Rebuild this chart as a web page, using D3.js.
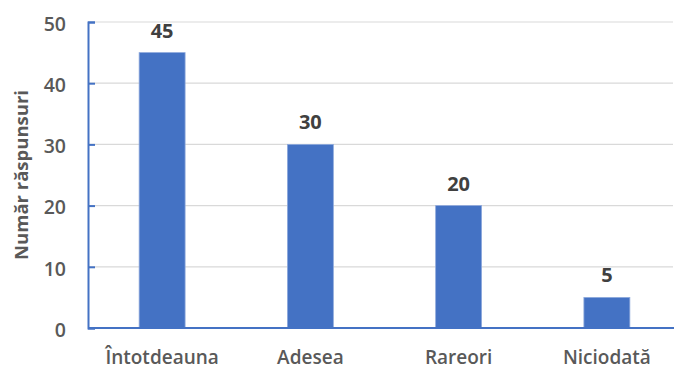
<!DOCTYPE html>
<html>
<head>
<meta charset="utf-8">
<script src="https://cdn.jsdelivr.net/npm/d3@7"></script>
<style>
  html, body { margin: 0; padding: 0; background: #fff; }
  svg { display: block; font-family: "Open Sans", "Noto Sans", sans-serif; }
</style>
</head>
<body>
<svg id="chart" width="674" height="369"></svg>
<script>
// Survey answers: how often respondents do it
const categories = ["Întotdeauna", "Adesea", "Rareori", "Niciodată"];
const values = [45, 30, 20, 5];
const yTicks = [0, 10, 20, 30, 40, 50];
const yTitle = "Număr răspunsuri";

const svg = d3.select("#chart");
const W = 674;
const plotLeft = 88, plotRight = 681, plotTop = 22, plotBottom = 328;

const x = d3.scaleBand()
  .domain(categories)
  .range([plotLeft, plotRight])
  .paddingInner(0.69)
  .paddingOuter(0.345);

const y = d3.scaleLinear().domain([0, 50]).range([plotBottom, plotTop]);

// Horizontal gridlines
svg.append("g")
  .selectAll("line")
  .data(yTicks.filter(d => d > 0))
  .join("line")
  .attr("x1", plotLeft).attr("x2", W - 1)
  .attr("y1", d => y(d)).attr("y2", d => y(d))
  .attr("stroke", "#d9d9d9")
  .attr("stroke-width", 1.2);

// Bars
svg.append("g")
  .selectAll("rect")
  .data(values)
  .join("rect")
  .attr("x", (d, i) => x(categories[i]))
  .attr("y", d => y(d))
  .attr("width", x.bandwidth())
  .attr("height", d => y(0) - y(d))
  .attr("fill", "#4472c4")
  .attr("stroke", "#8faadc")
  .attr("stroke-width", 0.8);

// Y axis: ticks point into the plot
const yAxis = d3.axisRight(y).tickValues(yTicks).tickSize(7).tickFormat("");
const gy = svg.append("g").attr("transform", `translate(${plotLeft},0)`).call(yAxis);
gy.select(".domain").attr("stroke", "#4472c4").attr("stroke-width", 2);
gy.selectAll(".tick line").attr("stroke", "#4472c4").attr("stroke-width", 2);

// Y tick labels
svg.append("g")
  .selectAll("text")
  .data(yTicks)
  .join("text")
  .attr("x", 66)
  .attr("y", d => y(d) + 2)
  .attr("dy", "0.35em")
  .attr("text-anchor", "end")
  .attr("fill", "#595959")
  .attr("font-size", 19.5)
  .attr("font-weight", 600)
  .text(d => d);

// Baseline
svg.append("line")
  .attr("x1", plotLeft).attr("x2", W)
  .attr("y1", y(0)).attr("y2", y(0))
  .attr("stroke", "#4472c4")
  .attr("stroke-width", 2);

// Category labels
svg.append("g")
  .selectAll("text")
  .data(categories)
  .join("text")
  .attr("x", d => x(d) + x.bandwidth() / 2)
  .attr("y", 364)
  .attr("text-anchor", "middle")
  .attr("fill", "#595959")
  .attr("font-size", 19)
  .attr("font-weight", 600)
  .text(d => d);

// Value labels
svg.append("g")
  .selectAll("text")
  .data(values)
  .join("text")
  .attr("x", (d, i) => x(categories[i]) + x.bandwidth() / 2)
  .attr("y", d => y(d) - 15)
  .attr("text-anchor", "middle")
  .attr("fill", "#404040")
  .attr("font-size", 20)
  .attr("font-weight", 700)
  .text(d => d);

// Y axis title
svg.append("text")
  .attr("transform", `translate(28,${(plotTop + plotBottom) / 2}) rotate(-90)`)
  .attr("text-anchor", "middle")
  .attr("fill", "#595959")
  .attr("font-size", 18.5)
  .attr("font-weight", 700)
  .text(yTitle);
</script>
</body>
</html>
